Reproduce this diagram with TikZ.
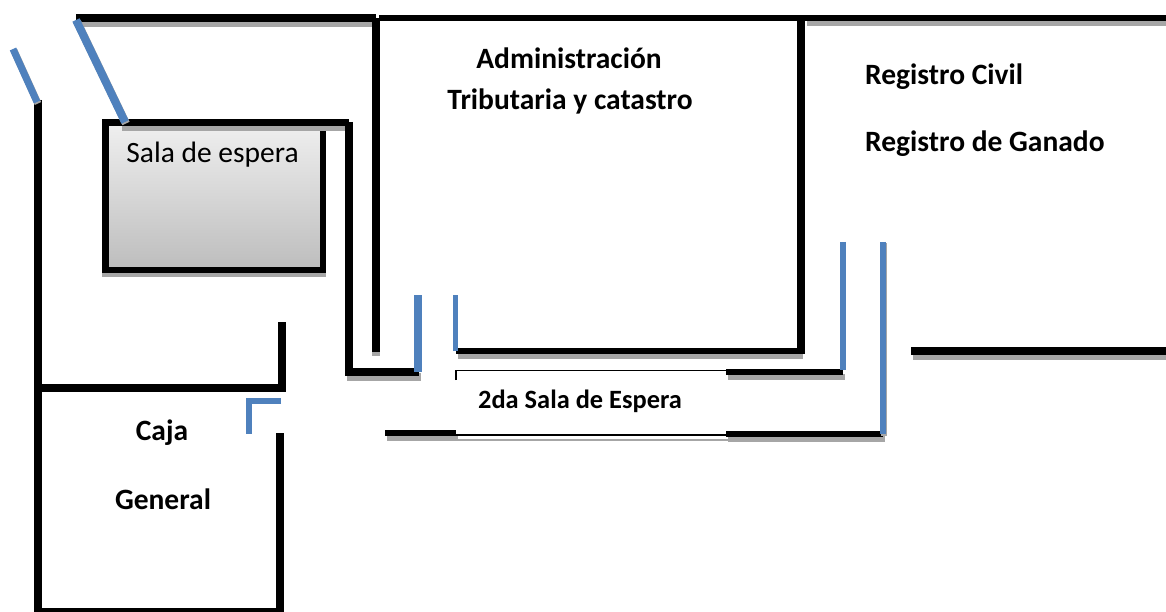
\documentclass[tikz,border=0pt]{standalone}
\usepackage{fontspec}
\setmainfont{Carlito}
\definecolor{door}{HTML}{4F81BD}
\definecolor{wallshadow}{HTML}{A6A6A6}
\newcommand{\wallseg}[2][8]{%
  \draw[wallshadow,line width=#1pt] [shift={(1.5,5)}] #2;
  \draw[black,line width=#1pt] #2;}
\newcommand{\doorseg}[2][6]{%
  \draw[wallshadow,line width=#1pt] [shift={(1,1.5)}] #2;
  \draw[door,line width=#1pt] #2;}
\tikzset{label text/.style={font=\fontsize{29.5}{34}\selectfont\bfseries,inner sep=0pt,anchor=base,align=center},
 plain text/.style={font=\fontsize{29.5}{34}\selectfont,inner sep=0pt,anchor=base}}
\begin{document}
\begin{tikzpicture}[x=1pt,y=-1pt]
\useasboundingbox (0,0) rectangle (1166,612);
% sala box
\fill[wallshadow] (102,123) rectangle (326,277);
\shade[top color=black!6,bottom color=black!26] (105,122) rectangle (323,270);
\draw[black,line width=6.5pt,line join=miter] (105.25,122.5) rectangle (323,270);
% walls
\wallseg{(76,18) -- (376,18)}
\wallseg[6]{(805,18) -- (1166,18)}
\draw[black,line width=6pt] (379,18) -- (805,18);
\draw[black,line width=8pt] (376,18) -- (376,352);
\fill[wallshadow] (372,352) rectangle (380,356);
\wallseg[7]{(120,122.5) -- (349,122.5)}
\wallseg[8]{(345,372) -- (419,372)}
\draw[black,line width=8pt] (349,122) -- (349,376);
\wallseg[6]{(456,351) -- (801,351)}
\draw[black,line width=8pt] (801,18) -- (801,354);
\wallseg[6]{(726,372) -- (843,372)}
\wallseg[6]{(385,433) -- (456,433)}
\wallseg[2]{(456,435) -- (726,435)}
\wallseg[6]{(726,434) -- (883,434)}
\wallseg{(911,351) -- (1166,351)}
\draw[black,line width=1.5pt] (456,380) -- (456,370.5) -- (726,370.5);
% caja
\draw[black,line width=8pt] (38,100) -- (38,612);
\draw[black,line width=8pt] (38,388) -- (282,388);
\draw[black,line width=8pt] (282,322) -- (282,392);
\draw[black,line width=8pt] (280,433) -- (280,612);
\draw[black,line width=4pt] (34,610) -- (284,610);
% doors
\doorseg[7]{(13,49) -- (37,102)}
\doorseg[8]{(76,20) -- (125,122)}
\draw[door,line width=8pt] (418,295) -- (418,372);
\draw[door,line width=5.5pt] (455.5,295) -- (455.5,351);
\draw[door,line width=6pt] (843,242) -- (843,370);
\doorseg{(883,242) -- (883,434)}
\draw[door,line width=6pt] (281,401) -- (249,401) -- (249,434);
% text
\node[plain text] (sala) at (212.5,163) {Sala de espera};
\node[label text] (adm) at (569,68.5) {Administración};
\node[label text] (trib) at (570,110) {Tributaria y catastro};
\node[label text,anchor=base west] (civ) at (865,85) {Registro Civil};
\node[label text,anchor=base west] (gan) at (865,152) {Registro de Ganado};
\node[label text,font=\fontsize{26.4}{30}\selectfont\bfseries] (sala2) at (580,408) {2da Sala de Espera};
\node[label text] (caja) at (162,440) {Caja};
\node[label text] (gen) at (163,509) {General};
\end{tikzpicture}
\end{document}
